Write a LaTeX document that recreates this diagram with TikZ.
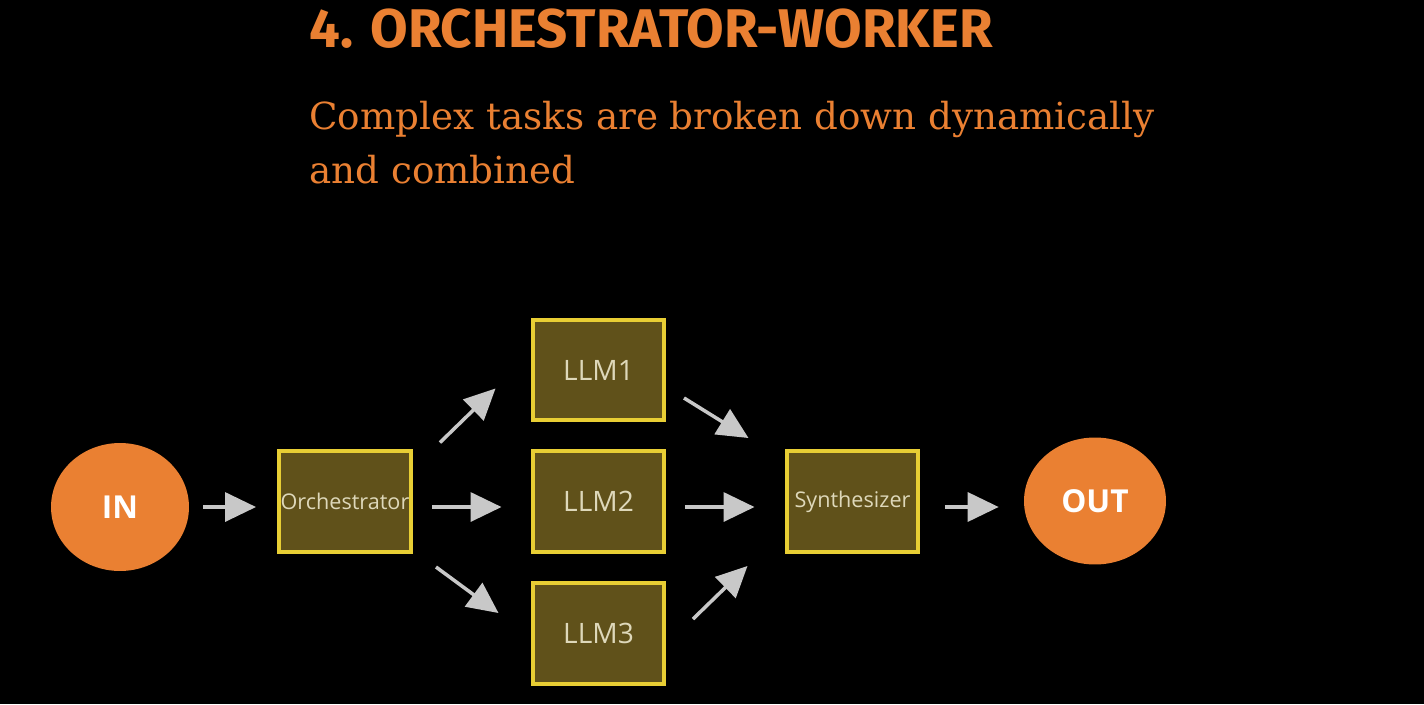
\documentclass[tikz,border=0pt]{standalone}
\usepackage{fontspec}
\usetikzlibrary{arrows.meta,shapes.geometric}
\setmainfont{Open Sans}
\newfontfamily\titlefont{Fira Sans}
\newfontfamily\slabfont{DejaVu Serif}
\definecolor{flowOrange}{RGB}{234,128,50}
\definecolor{boxOlive}{RGB}{96,81,26}
\definecolor{boxYellow}{RGB}{232,206,52}
\definecolor{arrowGray}{RGB}{200,200,200}
\definecolor{labelCream}{RGB}{222,216,186}
\tikzset{
  stage/.style={draw=boxYellow,fill=boxOlive,line width=0.08cm,minimum width=2.64cm,minimum height=2.02cm,inner sep=0pt,text=labelCream,font=\fontsize{12.3}{14}\selectfont},
  worker/.style={stage,font=\fontsize{16}{18}\selectfont},
  endpoint/.style={ellipse,fill=flowOrange,text=white,inner sep=0pt,font=\fontsize{18}{21}\selectfont\bfseries},
  flow/.style={arrowGray,line width=0.07cm,-{Triangle[width=0.58cm,length=0.62cm]}},
  heading/.style={anchor=base west,inner sep=0pt,text=flowOrange}
}

\begin{document}
\begin{tikzpicture}[x=0.02cm,y=-0.02cm]
  \fill[black] (0,0) rectangle (1424,704);
  % title and subtitle
  \node[heading,font=\titlefont\bfseries\fontsize{31}{36}\selectfont] (title) at (309,47) {4. ORCHESTRATOR-WORKER};
  \node[heading,font=\slabfont\fontsize{21.2}{25}\selectfont] (sub1) at (309,129) {Complex tasks are broken down dynamically};
  \node[heading,font=\slabfont\fontsize{21.2}{25}\selectfont] (sub2) at (309,183) {and combined};
  % nodes
  \node[endpoint,minimum width=2.76cm,minimum height=2.56cm] (in) at (120,507) {IN};
  \node[stage] (orch) at (345,501.5) {Orchestrator};
  \node[worker] (llm1) at (598.5,370) {LLM1};
  \node[worker] (llm2) at (598.5,501.5) {LLM2};
  \node[worker] (llm3) at (598.5,633.5) {LLM3};
  \node[stage] (synth) at (852.5,501.5) {Synthesizer};
  \node[endpoint,minimum width=2.84cm,minimum height=2.54cm] (out) at (1095,501) {OUT};
  % arrows
  \draw[flow,shorten <=0.28cm,shorten >=0.42cm] (in.east) -- (in.east -| orch.west);
  \draw[flow,shorten <=0.38cm,shorten >=0.58cm] ([yshift=-0.11cm]orch.east) -- ([yshift=-0.11cm]llm2.west);
  \draw[flow] ([shift={(27,-6.5)}]orch.north east) -- ([shift={(-35,-34)}]llm1.south west);
  \draw[flow] ([shift={(23,13)}]orch.south east) -- ([shift={(-32,32)}]llm3.north west);
  \draw[flow] ([shift={(17.5,-24.5)}]llm1.south east) -- ([shift={(-36,-11)}]synth.north west);
  \draw[flow,shorten <=0.37cm,shorten >=0.6cm] ([yshift=-0.11cm]llm2.east) -- ([yshift=-0.11cm]synth.west);
  \draw[flow] ([shift={(26.5,38)}]llm3.north east) -- ([shift={(-37,12)}]synth.south west);
  \draw[flow,shorten <=0.49cm,shorten >=0.5cm] ([yshift=-0.11cm]synth.east) -- ([yshift=-0.11cm]synth.east -| out.west);
\end{tikzpicture}
\end{document}
